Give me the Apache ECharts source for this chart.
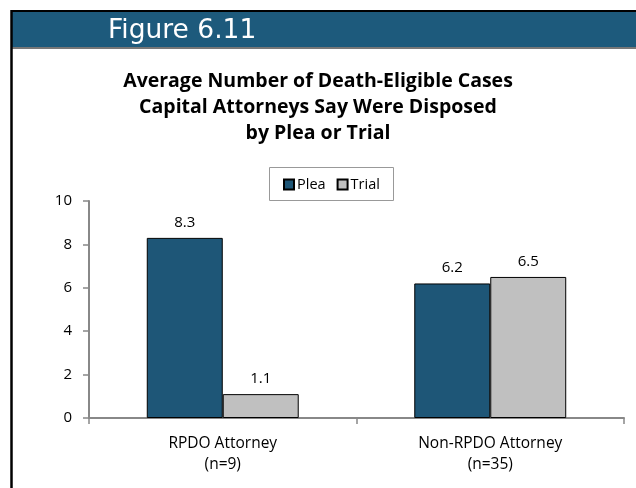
<!DOCTYPE html>
<html>
<head>
<meta charset="utf-8">
<script src="https://cdn.jsdelivr.net/npm/echarts@6/dist/echarts.min.js"></script>
<style>
  html, body { margin: 0; padding: 0; background: #fff; }
  #chart { width: 636px; height: 488px; }
</style>
</head>
<body>
<div id="chart"></div>
<script>
var categories = ['RPDO Attorney\n(n=9)', 'Non-RPDO Attorney\n(n=35)'];
var pleaValues = [8.3, 6.2];
var trialValues = [1.1, 6.5];
var seriesNames = ['Plea', 'Trial'];

var chart = echarts.init(document.getElementById('chart'));
var font = '"Open Sans", "Noto Sans", sans-serif';

var option = {
    backgroundColor: '#fff',
    animation: false,
    textStyle: { fontFamily: font },
    title: {
        text: 'Average Number of Death-Eligible Cases\nCapital Attorneys Say Were Disposed\nby Plea or Trial',
        left: 'center',
        top: 63,
        textStyle: {
            fontFamily: font,
            fontSize: 19.5,
            fontWeight: 'bold',
            color: '#000',
            lineHeight: 26
        }
    },
    legend: {
        data: seriesNames,
        top: 177,
        left: 283,
        itemWidth: 10,
        itemHeight: 10,
        itemGap: 11,
        padding: 0,
        icon: 'rect',
        textStyle: { fontFamily: font, fontSize: 14.5, color: '#000', padding: [0, 0, 0, -2] }
    },
    grid: { left: 89, right: 12, top: 201, bottom: 70 },
    xAxis: {
        type: 'category',
        data: categories,
        axisLine: { lineStyle: { color: '#888', width: 2 } },
        axisTick: { show: true, length: 6, lineStyle: { color: '#888', width: 1.5 } },
        axisLabel: { fontFamily: font, fontSize: 15.5, color: '#000', lineHeight: 21, margin: 15 }
    },
    yAxis: {
        type: 'value',
        min: 0,
        max: 10,
        interval: 2,
        splitLine: { show: false },
        axisLine: { show: true, lineStyle: { color: '#888', width: 2 } },
        axisTick: { show: true, length: 6, lineStyle: { color: '#888', width: 1.5 } },
        axisLabel: { fontFamily: font, fontSize: 15, color: '#000', margin: 17 }
    },
    series: [{
        name: 'Plea',
        type: 'bar',
        data: pleaValues,
        barWidth: '28.4%',
        barGap: '0%',
        itemStyle: { color: '#1E5677', borderColor: '#000', borderWidth: 1 },
        label: { show: true, position: 'top', distance: 8, fontFamily: font, fontSize: 15, color: '#000' }
    }, {
        name: 'Trial',
        type: 'bar',
        data: trialValues,
        barWidth: '28.4%',
        itemStyle: { color: '#C0C0C0', borderColor: '#000', borderWidth: 1 },
        label: { show: true, position: 'top', distance: 8, fontFamily: font, fontSize: 15, color: '#000' }
    }],
    graphic: [
        { type: 'rect', shape: { x: 11, y: 11, width: 625, height: 37 }, style: { fill: '#1D5A7C' } },
        { type: 'line', shape: { x1: 11, y1: 11, x2: 636, y2: 11 }, style: { stroke: '#000', lineWidth: 2 } },
        { type: 'line', shape: { x1: 12, y1: 48, x2: 636, y2: 48 }, style: { stroke: '#777', lineWidth: 2 } },
        { type: 'line', shape: { x1: 11.5, y1: 10, x2: 11.5, y2: 488 }, style: { stroke: '#000', lineWidth: 2.5 } },
        { type: 'rect', shape: { x: 269.5, y: 167.5, width: 124, height: 33 }, style: { fill: 'none', stroke: '#999', lineWidth: 1 } },
        { type: 'text', x: 108, y: 31, style: { text: 'Figure 6.11', fill: '#fff', verticalAlign: 'middle', font: '26.5px "DejaVu Sans", sans-serif' } }
    ]
};
chart.setOption(option);
</script>
</body>
</html>
